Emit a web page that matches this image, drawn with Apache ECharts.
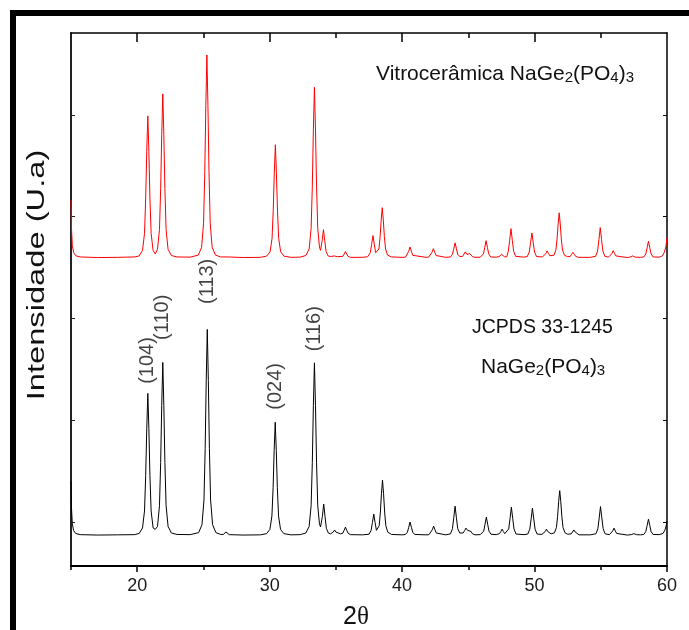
<!DOCTYPE html>
<html>
<head>
<meta charset="utf-8">
<script src="https://cdn.jsdelivr.net/npm/echarts@6/dist/echarts.min.js"></script>
<style>
  html, body { margin: 0; padding: 0; background: #fff; }
  #chart { width: 689px; height: 630px; }
</style>
</head>
<body>
<div id="chart"></div>
<script>
// JCPDS 33-1245 (NaGe2(PO4)3) reference profile: [2θ, relative intensity]
const refPattern = [
  [15.0, 26.5], [15.04, 13], [15.1, 5.5], [15.2, 2.2], [15.35, 0.8], [15.7, 0.2], [17.0, 0], [18.5, 0.1], [19.8, 0.2],
  [20.15, 0.8], [20.4, 3.5], [20.55, 11.8], [20.64, 29.2], [20.72, 52.2], [20.8, 69.6], [20.88, 52.2], [20.96, 29.2], [21.05, 11.8], [21.2, 3.5], [21.36, 2.8],
  [21.53, 4.2], [21.68, 14.4], [21.77, 35.6], [21.85, 63.6], [21.93, 84.8], [22.01, 63.6], [22.09, 35.6], [22.18, 14.4], [22.33, 4.2], [22.58, 1.0], [23.0, 0.3],
  [24.0, 0.2],
  [24.64, 1.2], [24.89, 5.1], [25.04, 17.2], [25.13, 42.4], [25.21, 75.8], [25.29, 101], [25.37, 75.8], [25.45, 42.4], [25.54, 17.2], [25.69, 5.1], [25.94, 1.2], [26.3, 0.3],
  [26.5, 0.3], [26.6, 0.9], [26.7, 1.5], [26.8, 0.9], [26.95, 0.2],
  [28.0, 0], [29.3, 0.1], [29.77, 0.7],
  [30.02, 2.8], [30.17, 9.4], [30.26, 23.3], [30.34, 41.6], [30.42, 55.4], [30.5, 41.6], [30.58, 23.3], [30.67, 9.4], [30.82, 2.8], [31.07, 0.7], [31.6, 0.1],
  [32.3, 0.2], [32.73, 1.0],
  [32.98, 4.2], [33.13, 14.4], [33.22, 35.5], [33.3, 63.5], [33.38, 84.6], [33.46, 63.5], [33.54, 35.5], [33.63, 14.4], [33.76, 5.5], [33.84, 4.0],
  [33.98, 9.1], [34.08, 15.2], [34.18, 9.1], [34.28, 3.3], [34.43, 1.0], [34.6, 0.6],
  [34.8, 1.5], [34.9, 2.5], [35.0, 1.5], [35.15, 0.6], [35.35, 0.6],
  [35.52, 0.9], [35.62, 2.3], [35.72, 3.9], [35.82, 2.3], [35.92, 0.9], [36.1, 0.2],
  [37.0, 0.1], [37.5, 0.4],
  [37.66, 2.3], [37.76, 6.2], [37.86, 10.3], [37.96, 6.2], [38.06, 2.3], [38.14, 1.6],
  [38.27, 4.6], [38.36, 11.3], [38.44, 20.3], [38.52, 27], [38.6, 20.3], [38.68, 11.3], [38.77, 4.6], [38.92, 1.4], [39.2, 0.3],
  [40.0, 0.1],
  [40.25, 0.3], [40.4, 1.4], [40.5, 3.8], [40.6, 6.4], [40.7, 3.8], [40.8, 1.4], [40.95, 0.3],
  [41.8, 0.1],
  [42.03, 0.2], [42.18, 1.0], [42.28, 2.6], [42.38, 4.4], [42.48, 2.6], [42.58, 1.0], [42.73, 0.2],
  [43.3, 0.1],
  [43.65, 0.6], [43.8, 3.1], [43.9, 8.5], [44.0, 14.2], [44.1, 8.5], [44.2, 3.1], [44.35, 1.0],
  [44.6, 1.0], [44.72, 2.2], [44.82, 3.4], [44.95, 2.3], [45.1, 2.9], [45.2, 1.8], [45.3, 0.7], [45.5, 0.1],
  [45.9, 0.2],
  [46.01, 0.4], [46.16, 1.9], [46.26, 5.3], [46.36, 8.8], [46.46, 5.3], [46.56, 1.9], [46.71, 0.4],
  [47.1, 0.2],
  [47.35, 0.7], [47.45, 1.7], [47.55, 2.9], [47.65, 1.7], [47.75, 0.7], [47.9, 0.4],
  [48.05, 3.0], [48.15, 8.2], [48.25, 13.7], [48.35, 8.2], [48.45, 3.0], [48.6, 0.5],
  [49.2, 0.2],
  [49.49, 0.5], [49.64, 2.9], [49.74, 7.9], [49.84, 13.2], [49.94, 7.9], [50.04, 2.9], [50.19, 0.5],
  [50.55, 0.3], [50.7, 0.7], [50.8, 1.7], [50.9, 2.9], [51.0, 1.7], [51.1, 0.8], [51.25, 0.6],
  [51.5, 1.1], [51.65, 3.7], [51.74, 9.2], [51.82, 16.4], [51.9, 21.8], [51.98, 16.4], [52.06, 9.2], [52.15, 3.7], [52.3, 1.1], [52.5, 0.4],
  [52.77, 0.6], [52.87, 1.5], [52.97, 2.5], [53.07, 1.5], [53.17, 0.6], [53.35, 0.1],
  [54.2, 0.1],
  [54.63, 0.6], [54.78, 3.1], [54.88, 8.4], [54.98, 14], [55.08, 8.4], [55.18, 3.1], [55.33, 0.6],
  [55.65, 0.2], [55.8, 0.8], [55.9, 2.0], [56.0, 3.4], [56.1, 2.0], [56.2, 0.8], [56.35, 0.2],
  [57.0, 0], [57.3, 0.2], [57.5, 0.7], [57.7, 0.2],
  [58.0, 0.1], [58.25, 0.3], [58.4, 1.7], [58.5, 4.7], [58.6, 7.8], [58.7, 4.7], [58.8, 1.7], [58.95, 0.3],
  [59.4, 0.2], [59.7, 0.8], [59.85, 2.5], [59.95, 5.0], [60.0, 6.9]
];

// Glass-ceramic NaGe2(PO4)3 diffractogram: [2θ, relative intensity]
const glassPattern = [
  [15.0, 28.4], [15.04, 14], [15.1, 6], [15.2, 2.4], [15.35, 0.9], [15.7, 0.3], [17.0, 0], [18.5, 0.1], [19.8, 0.3],
  [20.15, 0.8], [20.4, 3.5], [20.55, 11.8], [20.64, 29.2], [20.72, 52.2], [20.8, 69.6], [20.88, 52.2], [20.96, 29.2], [21.05, 11.8], [21.2, 3.5], [21.36, 1.8],
  [21.53, 4.0], [21.68, 13.7], [21.77, 33.8], [21.85, 60.3], [21.93, 80.4], [22.01, 60.3], [22.09, 33.8], [22.18, 13.7], [22.33, 4.0], [22.58, 1.0], [23.0, 0.3],
  [24.0, 0.2],
  [24.61, 1.2], [24.86, 5.0], [25.01, 16.9], [25.1, 41.8], [25.18, 74.6], [25.26, 99.5], [25.34, 74.6], [25.42, 41.8], [25.51, 16.9], [25.66, 5.0], [25.91, 1.2], [26.3, 0.3],
  [26.55, 0.3], [26.7, 1.0], [26.85, 0.3],
  [28.0, 0], [29.3, 0.1], [29.77, 0.7],
  [30.03, 2.8], [30.18, 9.4], [30.27, 23.3], [30.35, 41.6], [30.43, 55.4], [30.51, 41.6], [30.59, 23.3], [30.68, 9.4], [30.83, 2.8], [31.08, 0.7], [31.6, 0.1],
  [32.3, 0.2], [32.73, 1.0],
  [32.98, 4.2], [33.13, 14.2], [33.22, 35.1], [33.3, 62.7], [33.38, 83.6], [33.46, 62.7], [33.54, 35.1], [33.63, 14.2], [33.76, 5.2], [33.84, 3.5],
  [33.96, 8.2], [34.06, 13.7], [34.16, 8.2], [34.26, 3.0], [34.41, 0.8], [34.6, 0.5],
  [34.9, 0.8], [35.1, 0.4],
  [35.52, 0.6], [35.62, 1.7], [35.72, 2.9], [35.82, 1.7], [35.92, 0.6], [36.1, 0.1],
  [37.0, 0.1], [37.4, 0.4],
  [37.6, 2.4], [37.7, 6.5], [37.8, 10.8], [37.9, 6.5], [38.0, 2.4], [38.1, 1.8],
  [38.25, 4.2], [38.34, 10.3], [38.42, 18.4], [38.5, 24.5], [38.58, 18.4], [38.66, 10.3], [38.75, 4.2], [38.9, 1.2], [39.2, 0.3],
  [40.0, 0.1],
  [40.25, 0.2], [40.4, 1.1], [40.5, 3.1], [40.6, 5.2], [40.7, 3.1], [40.8, 1.1], [40.95, 0.2],
  [41.8, 0.1],
  [42.01, 0.2], [42.16, 1.0], [42.26, 2.6], [42.36, 4.4], [42.46, 2.6], [42.56, 1.0], [42.71, 0.2],
  [43.3, 0.1],
  [43.65, 0.3], [43.8, 1.6], [43.9, 4.3], [44.0, 7.2], [44.1, 4.3], [44.2, 1.6], [44.35, 0.5],
  [44.57, 0.6], [44.67, 1.7], [44.77, 2.8], [44.9, 1.5], [45.0, 1.4], [45.1, 2.0], [45.2, 1.2], [45.3, 0.5], [45.5, 0.1],
  [45.9, 0.2],
  [45.99, 0.3], [46.14, 1.8], [46.24, 5.0], [46.34, 8.3], [46.44, 5.0], [46.54, 1.8], [46.69, 0.3],
  [47.1, 0.2],
  [47.32, 0.4], [47.42, 1.0], [47.52, 1.6], [47.62, 1.0], [47.72, 0.4], [47.9, 0.4],
  [48.02, 3.1], [48.12, 8.5], [48.22, 14.2], [48.32, 8.5], [48.42, 3.1], [48.57, 0.6],
  [49.2, 0.2],
  [49.45, 0.5], [49.6, 2.7], [49.7, 7.3], [49.8, 12.1], [49.9, 7.3], [50.0, 2.7], [50.15, 0.5],
  [50.6, 0.3], [50.75, 0.7], [50.85, 2.0], [50.95, 3.3], [51.05, 2.0], [51.15, 0.9], [51.3, 0.7],
  [51.46, 1.1], [51.61, 3.7], [51.7, 9.2], [51.78, 16.5], [51.86, 22], [51.94, 16.5], [52.02, 9.2], [52.11, 3.7], [52.26, 1.1], [52.5, 0.4],
  [52.7, 0.6], [52.8, 1.6], [52.9, 2.6], [53.0, 1.6], [53.1, 0.6], [53.3, 0.1],
  [54.2, 0.1],
  [54.61, 0.6], [54.76, 3.2], [54.86, 8.8], [54.96, 14.7], [55.06, 8.8], [55.16, 3.2], [55.31, 0.6],
  [55.59, 0.2], [55.74, 0.8], [55.84, 2.0], [55.94, 3.4], [56.04, 2.0], [56.14, 0.8], [56.29, 0.2],
  [57.0, 0], [57.2, 0.2], [57.4, 0.8], [57.6, 0.2],
  [58.0, 0.1], [58.25, 0.3], [58.4, 1.8], [58.5, 4.8], [58.6, 8.0], [58.7, 4.8], [58.8, 1.8], [58.95, 0.3],
  [59.4, 0.2], [59.65, 0.8], [59.8, 2.6], [59.92, 5.5], [60.0, 9.7]
];

// Miller indices of the indexed reflections and their 2θ positions
const hklLabels = ['(104)', '(110)', '(113)', '(024)', '(116)'];
const hklTwoTheta = [20.8, 21.93, 25.29, 30.42, 33.38];

// Axis ticks
const xMajorTicks = [20, 30, 40, 50, 60];
const xMinorTicks = [25, 35, 45, 55];
const yTicks = [0, 50, 100, 150, 200];

// Vertical stacking of the two patterns
const refBaseline = -6.4;
const glassBaseline = 129.9;
// Extra clearance (px) between each peak top and its Miller-index label
const hklGap = [9, 22, 25, 12, 11];

const Y_MIN = -21.6, Y_MAX = 240.2;
const FONT = '"Liberation Sans", Arial, sans-serif';
const TEXT = '#111';

const chart = echarts.init(document.getElementById('chart'), null, { renderer: 'canvas' });

const refData = refPattern.map(p => [p[0], p[1] + refBaseline]);
const glassData = glassPattern.map(p => [p[0], p[1] + glassBaseline]);

const hklData = hklLabels.map((name, i) => {
  const pt = refPattern.find(p => p[0] === hklTwoTheta[i]);
  return {
    name: name,
    value: [hklTwoTheta[i], pt[1] + refBaseline],
    label: { distance: hklGap[i] }
  };
});

const baseX = {
  type: 'value', min: 15, max: 60, interval: 5,
  splitLine: { show: false }
};
const baseY = {
  type: 'value', min: Y_MIN, max: Y_MAX,
  splitLine: { show: false }, axisLabel: { show: false }
};

// rich-text styles for chemical formulas with subscripts
const formulaRich = {
  a: { fontSize: 21, fontFamily: FONT, color: TEXT, fontWeight: 'normal', lineHeight: 24, verticalAlign: 'bottom' },
  s: { fontSize: 15, fontFamily: FONT, color: TEXT, fontWeight: 'normal', lineHeight: 8, verticalAlign: 'bottom' }
};

const option = {
  backgroundColor: '#fff',
  animation: false,
  grid: { left: 71, right: 22, top: 33, bottom: 64, containLabel: false },
  xAxis: [
    Object.assign({}, baseX, {
      position: 'bottom',
      axisLine: { show: true, onZero: false, lineStyle: { color: '#000', width: 2 } },
      axisTick: { show: true, inside: false, length: 6, customValues: xMajorTicks, lineStyle: { color: '#000', width: 1.5 } },
      axisLabel: { show: true, customValues: xMajorTicks, margin: 11, fontSize: 18, color: '#1a1a1a', fontFamily: FONT }
    }),
    Object.assign({}, baseX, {
      position: 'bottom',
      axisLine: { show: false, onZero: false },
      axisTick: { show: true, inside: false, length: 4, customValues: [15].concat(xMinorTicks), lineStyle: { color: '#000', width: 1.5 } },
      axisLabel: { show: false }
    }),
    Object.assign({}, baseX, {
      position: 'top',
      axisLine: { show: true, onZero: false, lineStyle: { color: '#000', width: 1.5 } },
      axisTick: { show: true, inside: true, length: 9, customValues: [20, 30, 40, 50], lineStyle: { color: '#000', width: 1.5 } },
      axisLabel: { show: false }
    }),
    Object.assign({}, baseX, {
      position: 'top',
      axisLine: { show: false, onZero: false },
      axisTick: { show: true, inside: true, length: 5, customValues: xMinorTicks, lineStyle: { color: '#000', width: 1.5 } },
      axisLabel: { show: false }
    })
  ],
  yAxis: [
    Object.assign({}, baseY, {
      position: 'left',
      axisLine: { show: true, onZero: false, lineStyle: { color: '#222', width: 2 } },
      axisTick: { show: true, inside: true, length: 4, customValues: yTicks, lineStyle: { color: '#222', width: 1 } }
    }),
    Object.assign({}, baseY, {
      position: 'right',
      axisLine: { show: true, onZero: false, lineStyle: { color: '#000', width: 1.5 } },
      axisTick: { show: true, inside: true, length: 4, customValues: yTicks, lineStyle: { color: '#000', width: 1 } }
    })
  ],
  title: [
    {
      text: '{a|Vitrocerâmica NaGe}{s|2}{a|(PO}{s|4}{a|)}{s|3}',
      left: 371, top: 56,
      textStyle: { fontWeight: 'normal', rich: formulaRich }
    },
    {
      text: 'JCPDS 33-1245',
      left: 467, top: 313,
      textStyle: { fontSize: 19.5, fontFamily: FONT, color: TEXT, fontWeight: 'normal' }
    },
    {
      text: '{a|NaGe}{s|2}{a|(PO}{s|4}{a|)}{s|3}',
      left: 476, top: 349,
      textStyle: { fontWeight: 'normal', rich: formulaRich }
    }
  ],
  graphic: [
    // outer frame bars (left and top)
    { type: 'rect', shape: { x: 10, y: 10, width: 6, height: 620 }, style: { fill: '#000' } },
    { type: 'rect', shape: { x: 10, y: 10, width: 679, height: 6 }, style: { fill: '#000' } },
    {
      type: 'text', x: 38, y: 275, rotation: Math.PI / 2, scaleX: 1.42,
      style: {
        text: 'Intensidade (U.a)', fill: TEXT,
        font: '23px "Liberation Sans", Arial, sans-serif',
        textAlign: 'center', textVerticalAlign: 'middle'
      }
    },
    {
      type: 'text', x: 356, y: 617,
      style: {
        text: '{n|2}{t|θ}', fill: TEXT, textAlign: 'center', textVerticalAlign: 'middle',
        rich: {
          n: { fontSize: 25, fontFamily: FONT, fill: TEXT },
          t: { fontSize: 25, fontFamily: '"Liberation Serif", serif', fill: TEXT }
        }
      }
    }
  ],
  series: [
    {
      name: 'JCPDS 33-1245', type: 'line', xAxisIndex: 0, yAxisIndex: 0,
      data: refData, showSymbol: false, smooth: false,
      lineStyle: { color: '#000', width: 1 }, z: 3
    },
    {
      name: 'Vitrocerâmica', type: 'line', xAxisIndex: 0, yAxisIndex: 0,
      data: glassData, showSymbol: false, smooth: false,
      lineStyle: { color: '#ff0000', width: 1 }, z: 3
    },
    {
      name: 'hkl', type: 'scatter', xAxisIndex: 0, yAxisIndex: 0,
      data: hklData, symbolSize: 1, itemStyle: { color: 'rgba(0,0,0,0)' },
      label: {
        show: true, position: 'top', rotate: 90,
        align: 'left', verticalAlign: 'middle',
        formatter: p => p.name,
        fontSize: 20, fontFamily: FONT, color: TEXT
      },
      labelLayout: { hideOverlap: false },
      z: 4
    }
  ]
};

chart.setOption(option);
</script>
</body>
</html>
